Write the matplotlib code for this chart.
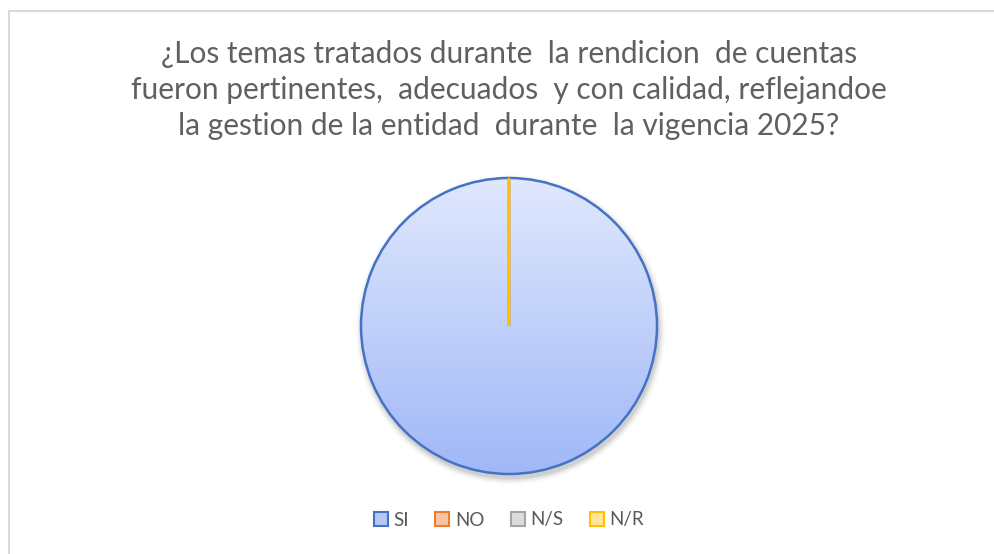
import numpy as np
import matplotlib.pyplot as plt
from matplotlib.patches import Patch, Rectangle, Circle
from matplotlib.colors import LinearSegmentedColormap

# datos de la encuesta
categorias = ["SI", "NO", "N/S", "N/R"]
respuestas = [100, 0, 0, 0]
bordes = ["#4472c4", "#ed7d31", "#a5a5a5", "#ffc000"]
rellenos = ["#b4c7f7", "#f8c4a6", "#dcdcdc", "#ffe699"]

titulo = ("¿Los temas tratados durante  la rendicion  de cuentas\n"
          "fueron pertinentes,  adecuados  y con calidad, reflejandoe\n"
          "la gestion de la entidad  durante  la vigencia 2025?")

plt.rcParams["font.family"] = ["Lato", "DejaVu Sans"]
W, H = 995, 554
fig = plt.figure(figsize=(W / 100, H / 100), dpi=100)

# marco del grafico
fig.patches.append(Rectangle((8.5 / W, -0.1), 1.1, 1 - 10.5 / H + 0.1,
                             transform=fig.transFigure, fill=False,
                             edgecolor="#d9d9d9", linewidth=1.5))

fig.text(509 / W, 1 - 90 / H, titulo, ha="center", va="center",
         fontsize=21.5, color="#606060", linespacing=1.36)

# torta
cx, cy, r = 509, H - 326, 148
pad = 160
ax = fig.add_axes([(cx - pad) / W, (cy - pad) / H, 2 * pad / W, 2 * pad / H])

# sombra suave
for i, a in enumerate(np.linspace(0.05, 0.012, 6)):
    ax.add_patch(Circle((0.01, -0.025), 1 + 0.008 * (i + 1), color="black",
                        alpha=a, linewidth=0, zorder=0))

wedges, _ = ax.pie(respuestas, startangle=90, counterclock=False,
                   colors=rellenos, radius=1,
                   wedgeprops=dict(linewidth=1.8))
for w, c in zip(wedges, bordes):
    w.set_edgecolor(c)
    w.set_zorder(3)
wedges[0].set_facecolor("none")

grad = LinearSegmentedColormap.from_list("g", ["#a0b8f8", "#e0e8fd"])
img = ax.imshow(np.linspace(0, 1, 256).reshape(-1, 1), cmap=grad,
                extent=[-1, 1, -1, 1], origin="lower", aspect="auto", zorder=2)
img.set_clip_path(wedges[0])

lim = pad / r
ax.set_xlim(-lim, lim)
ax.set_ylim(-lim, lim)
ax.set_aspect("equal")
ax.axis("off")

handles = [Patch(facecolor=f, edgecolor=e, linewidth=1.5)
           for f, e in zip(rellenos, bordes)]
fig.legend(handles, categorias, loc="center", bbox_to_anchor=(509 / W, 34 / H),
           ncol=4, frameon=False, fontsize=13.5, labelcolor="#595959",
           handlelength=0.75, handleheight=0.75, handletextpad=0.3,
           columnspacing=1.4)

fig.savefig("out.png", dpi=100)
